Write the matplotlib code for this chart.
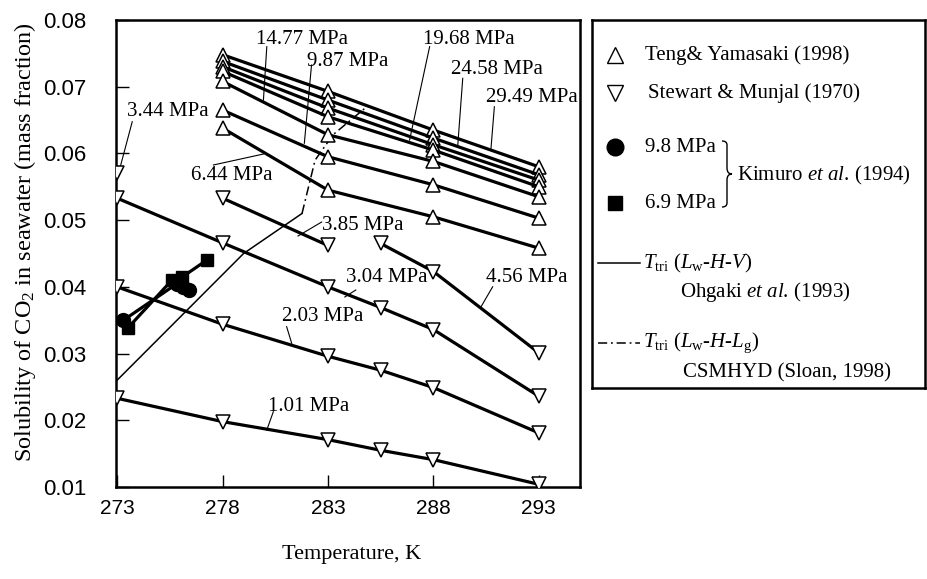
import matplotlib
matplotlib.use("Agg")
import matplotlib.pyplot as plt
from matplotlib.path import Path
from matplotlib.patches import PathPatch

plt.rcParams['mathtext.fontset'] = 'custom'
plt.rcParams['mathtext.rm'] = 'Liberation Serif'
plt.rcParams['mathtext.it'] = 'Liberation Serif:italic'
plt.rcParams['mathtext.bf'] = 'Liberation Serif:bold'
SERIF = 'Liberation Serif'
SANS = 'Liberation Sans'

# ---------------- data ----------------
# Stewart & Munjal (1970)  (open down triangles)
T_sm = [273, 278, 283, 285.5, 288, 293]
sm_101 = [0.0233, 0.0198, 0.0171, 0.0155, 0.0141, 0.0104]
sm_203 = [0.0400, 0.0344, 0.0296, 0.0275, 0.0249, 0.0181]
sm_304 = [0.0533, 0.0466, 0.0400, 0.0369, 0.0336, 0.0236]
T_sm_344 = [273]
sm_344 = [0.0571]
T_sm_385 = [278, 283]
sm_385 = [0.0533, 0.0462]
T_sm_456 = [285.5, 288, 293]
sm_456 = [0.0465, 0.0423, 0.0301]

# Teng & Yamasaki (1998)  (open up triangles)
T_ty = [278, 283, 288, 293]
ty_2949 = [0.0748, 0.0693, 0.0635, 0.0580]
ty_2458 = [0.0738, 0.0680, 0.0623, 0.0568]
ty_1968 = [0.0730, 0.0668, 0.0613, 0.0560]
ty_b = [0.0723, 0.0655, 0.0605, 0.0550]
ty_1477 = [0.0708, 0.0628, 0.0588, 0.0535]
ty_987 = [0.0665, 0.0595, 0.0553, 0.0503]
ty_644 = [0.0638, 0.0545, 0.0505, 0.0458]

# Kimuro et al. (1994)
T_k98 = [273.3, 275.85, 276.15, 276.4]
k98 = [0.0350, 0.0405, 0.0400, 0.0395]
T_k69 = [273.5, 275.6, 276.1, 277.25]
k69 = [0.0338, 0.0410, 0.0415, 0.0440]

# Ttri (Lw-H-V), Ohgaki et al. (1993)
T_hv = [273.0, 276.0, 279.0, 281.77]
w_hv = [0.0260, 0.0355, 0.0450, 0.0510]
# Ttri (Lw-H-Lg), CSMHYD
T_hl = [281.77, 282.39, 283.24, 284.84]
w_hl = [0.0510, 0.0590, 0.0628, 0.0670]

x_ticks = [273, 278, 283, 288, 293]
y_ticks = [0.01, 0.02, 0.03, 0.04, 0.05, 0.06, 0.07, 0.08]

# ---------------- figure ----------------
W, H = 927, 579
fig = plt.figure(figsize=(W / 100, H / 100), dpi=100)
ax = fig.add_axes([116 / W, 1 - 487 / H, (580 - 116) / W, (487 - 20) / H])
ax.set_xlim(272.95, 294.95)
ax.set_ylim(0.01, 0.08)

LW = 2.3
tri = dict(ms=9.5, mfc='white', mec='black', mew=1.1, color='black', lw=LW)

# phase boundary lines
ax.plot(T_hv, w_hv, color='black', lw=1.1, zorder=2)
ax.plot(T_hl, w_hl, color='black', lw=1.1, ls=(0, (6, 2.5, 1.2, 2.5)), zorder=2)

for ys in [sm_101, sm_203, sm_304]:
    ax.plot(T_sm, ys, marker='v', zorder=3, **tri)
ax.plot(T_sm_344, sm_344, marker='v', zorder=3, **tri)
ax.plot(T_sm_385, sm_385, marker='v', zorder=3, **tri)
ax.plot(T_sm_456, sm_456, marker='v', zorder=3, **tri)

for ys in [ty_2949, ty_2458, ty_1968, ty_b, ty_1477, ty_987, ty_644]:
    ax.plot(T_ty, ys, marker='^', zorder=3, **tri)

ax.plot(T_k98, k98, color='black', lw=LW, marker='o', ms=10, zorder=4)
ax.plot(T_k69, k69, color='black', lw=LW, marker='s', ms=9, zorder=4)

# labels with leader lines
labels = [
    ("14.77 MPa", (281.77, 0.07715), (280.10, 0.0760), (279.94, 0.0680)),
    ("9.87 MPa", (283.94, 0.07375), (282.22, 0.07325), (281.88, 0.06152)),
    ("19.68 MPa", (289.66, 0.07715), (287.82, 0.0760), (286.87, 0.06201)),
    ("24.58 MPa", (291.03, 0.07251), (289.39, 0.07126), (289.15, 0.06101)),
    ("29.49 MPa", (292.66, 0.06831), (290.89, 0.0670), (290.73, 0.06077)),
    ("3.44 MPa", (275.41, 0.06625), (273.72, 0.06476), (273.09, 0.05726)),
    ("6.44 MPa", (278.44, 0.05662), (277.57, 0.05827), (279.94, 0.05991)),
    ("3.85 MPa", (284.63, 0.04927), (282.70, 0.04972), (281.58, 0.04762)),
    ("3.04 MPa", (285.77, 0.04133), (284.32, 0.03953), (283.80, 0.03848)),
    ("4.56 MPa", (292.42, 0.04133), (290.81, 0.04002), (290.26, 0.03703)),
    ("2.03 MPa", (282.74, 0.03563), (281.04, 0.03403), (281.28, 0.03154)),
    ("1.01 MPa", (282.10, 0.02214), (280.41, 0.02129), (280.10, 0.01855)),
]
for txt, pos, p0, p1 in labels:
    ax.text(pos[0], pos[1], txt, family=SERIF, fontsize=15, ha='center',
            va='center', zorder=5)
    ax.plot([p0[0], p1[0]], [p0[1], p1[1]], color='black', lw=0.8, zorder=2)

ax.set_xticks(x_ticks)
ax.set_xticklabels([str(t) for t in x_ticks], family=SANS, fontsize=15)
ax.set_yticks(y_ticks)
ax.set_yticklabels([f"{v:.2f}" for v in y_ticks], family=SANS, fontsize=16)
ax.tick_params(axis='both', direction='in', length=9, width=1.0)
ax.tick_params(axis='y', pad=21)
ax.tick_params(axis='x', pad=9)
for sp in ax.spines.values():
    sp.set_linewidth(1.8)

fig.text(25 / W, 1 - 242 / H, 'Solubility of CO$_2$ in seawater (mass fraction)',
         rotation=90, ha='center', va='center', family=SERIF, fontsize=17.5)
fig.text(352 / W, 1 - 555 / H, 'Temperature, K', ha='center', va='center',
         family=SERIF, fontsize=16)

# ---------------- legend panel ----------------
lx0, lx1, ly0, ly1 = 592, 925, 20, 388
lg = fig.add_axes([lx0 / W, 1 - ly1 / H, (lx1 - lx0) / W, (ly1 - ly0) / H])
lg.set_xlim(0, lx1 - lx0)
lg.set_ylim(ly1 - ly0, 0)
lg.set_xticks([])
lg.set_yticks([])
for sp in lg.spines.values():
    sp.set_linewidth(1.8)

fs = 15
lg.plot([23], [35], marker='^', ms=11, mfc='white', mec='black', mew=1.0)
lg.text(53, 35, 'Teng& Yamasaki (1998)', family=SERIF, fontsize=fs, va='center')
lg.plot([23], [73], marker='v', ms=11, mfc='white', mec='black', mew=1.0)
lg.text(56, 73, 'Stewart & Munjal (1970)', family=SERIF, fontsize=fs, va='center')
lg.plot([23], [127], marker='o', ms=12, color='black')
lg.text(53, 127, '9.8 MPa', family=SERIF, fontsize=fs, va='center')
lg.plot([23], [183], marker='s', ms=10, color='black')
lg.text(53, 183, '6.9 MPa', family=SERIF, fontsize=fs, va='center')

# brace
bx, btop, bbot = 130, 121, 187
bmid = (btop + bbot) / 2
verts = [(bx, btop), (bx + 5, btop), (bx + 5, btop + 4),
         (bx + 5, bmid - 6), (bx + 5, bmid), (bx + 10, bmid),
         (bx + 5, bmid), (bx + 5, bmid + 6),
         (bx + 5, bbot - 4), (bx + 5, bbot), (bx, bbot)]
codes = [Path.MOVETO, Path.CURVE3, Path.CURVE3,
         Path.LINETO, Path.CURVE3, Path.CURVE3,
         Path.CURVE3, Path.CURVE3,
         Path.LINETO, Path.CURVE3, Path.CURVE3]
lg.add_patch(PathPatch(Path(verts, codes), fill=False, lw=1.0, color='black'))
lg.text(145, 155, 'Kimuro $et\\ al.\\,$(1994)', family=SERIF, fontsize=fs, va='center')

lg.plot([6, 48], [243, 243], color='black', lw=1.1)
lg.text(51, 243, r'$T_{\rm tri}$ ($L_{\rm w}$-$H$-$V$)', family=SERIF, fontsize=fs, va='center')
lg.text(88, 272, 'Ohgaki $et\\ al.\\,$(1993)', family=SERIF, fontsize=fs, va='center')
lg.plot([6, 48], [323, 323], color='black', lw=1.1, ls=(0, (6, 2.5, 1.2, 2.5)))
lg.text(51, 323, r'$T_{\rm tri}$ ($L_{\rm w}$-$H$-$L_{\rm g}$)', family=SERIF, fontsize=fs, va='center')
lg.text(91, 353, 'CSMHYD (Sloan, 1998)', family=SERIF, fontsize=fs, va='center')

fig.savefig('out.png', dpi=100)
